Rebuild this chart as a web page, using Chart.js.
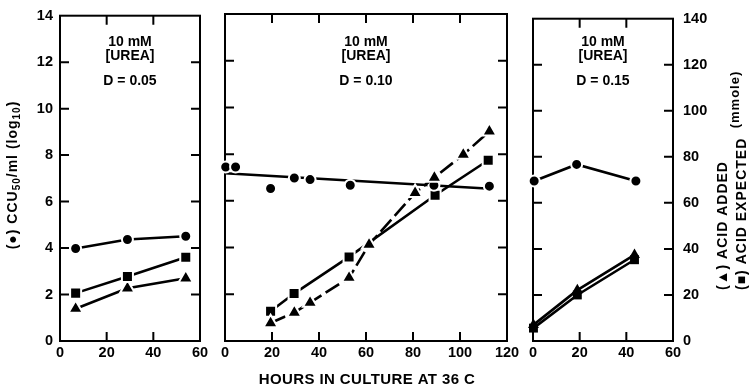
<!DOCTYPE html>
<html><head><meta charset="utf-8">
<script src="https://cdn.jsdelivr.net/npm/chart.js@4.4.1/dist/chart.umd.min.js"></script>
<style>
html,body{margin:0;padding:0;background:#fff;}
#wrap{position:relative;width:749px;height:387px;overflow:hidden;background:#fff;}
canvas{position:absolute;left:0;top:0;}
</style></head><body>
<div id="wrap">
<canvas id="c1" width="749" height="387"></canvas>
<canvas id="c2" width="749" height="387"></canvas>
<canvas id="c3" width="749" height="387"></canvas>
</div>
<script>
// ---------- data ----------
const yTicksLeft = [0, 2, 4, 6, 8, 10, 12, 14];           // log10 CCU50/ml
const yTicksRight = [0, 20, 40, 60, 80, 100, 120, 140];   // mmole
const xTicksShort = [0, 20, 40, 60];
const xTicksLong = [0, 20, 40, 60, 80, 100, 120];

const panelLabels1 = ['10 mM', '[UREA]', 'D = 0.05'];
const panelLabels2 = ['10 mM', '[UREA]', 'D = 0.10'];
const panelLabels3 = ['10 mM', '[UREA]', 'D = 0.15'];

// Panel 1 (D = 0.05)
const p1Hours = [6.7, 28.9, 53.9];
const p1Virus = [3.98, 4.37, 4.51];
const p1AcidAdded = [13.9, 22.7, 27.0];
const p1AcidExpected = [20.6, 27.8, 36.0];

// Panel 2 (D = 0.10)
const p2VirusHours = [0.3, 4.5, 19.4, 29.5, 36.2, 53.3, 88.9, 112.5];
const p2Virus = [7.45, 7.45, 6.53, 6.98, 6.91, 6.67, 6.67, 6.63];
const p2FitHours = [0, 113];
const p2Fit = [7.18, 6.52];
const p2AddedHours = [19.4, 29.5, 36.2, 52.8, 61.3, 80.9, 89.1, 101.4, 112.5];
const p2AcidAdded = [7.7, 12.2, 16.4, 27.1, 41.3, 63.4, 70.0, 79.8, 89.8];
const p2ExpectedHours = [19.4, 29.4, 52.8, 89.4, 112.0];
const p2AcidExpected = [12.7, 20.3, 36.0, 62.4, 77.4];

// Panel 3 (D = 0.15)
const p3VirusHours = [0.5, 18.7, 44.1];
const p3Virus = [6.95, 7.67, 6.95];
const p3AcidHours = [0.2, 19.0, 43.5];
const p3AcidAdded = [7.0, 22.1, 37.4];
const p3AcidExpected = [5.6, 20.0, 35.3];

// ---------- rendering ----------
const FONT = "'Liberation Sans', Arial, Helvetica, sans-serif";
Chart.defaults.font.family = FONT;
Chart.defaults.font.weight = 'bold';
Chart.defaults.color = '#000';

function pts(xs, ys) { return xs.map((x, i) => ({ x: x, y: ys[i] })); }

function series(xs, ys, style, axis, extra) {
  const sizes = { circle: 5.5, rect: 7.8, triangle: 8.3 };
  return Object.assign({
    data: pts(xs, ys), yAxisID: axis, showLine: true,
    borderColor: '#000', borderWidth: 2.6, backgroundColor: '#000',
    pointStyle: style, pointRadius: sizes[style], pointHoverRadius: sizes[style],
    pointBackgroundColor: '#000', pointBorderColor: '#fff', pointBorderWidth: 2,
    clip: false
  }, extra || {});
}

function framePlugin(xTicks, yTicks) {
  return {
    id: 'frame',
    beforeDatasetsDraw(chart) {
      const { ctx, chartArea: a, scales } = chart;
      ctx.save();
      ctx.strokeStyle = '#000'; ctx.lineWidth = 2;
      ctx.strokeRect(a.left, a.top, a.right - a.left, a.bottom - a.top);
      const L = 9;
      ctx.beginPath();
      yTicks.slice(1, -1).forEach(v => {
        const y = scales.y.getPixelForValue(v);
        ctx.moveTo(a.left, y); ctx.lineTo(a.left + L, y);
        ctx.moveTo(a.right, y); ctx.lineTo(a.right - L, y);
      });
      xTicks.slice(1, -1).forEach(v => {
        const x = scales.x.getPixelForValue(v);
        ctx.moveTo(x, a.top); ctx.lineTo(x, a.top + L);
        ctx.moveTo(x, a.bottom); ctx.lineTo(x, a.bottom - L);
      });
      ctx.stroke();
      ctx.restore();
    }
  };
}

function textPlugin(lines, extra) {
  return {
    id: 'ptext',
    afterDraw(chart) {
      const { ctx, chartArea: a } = chart;
      const cx = (a.left + a.right) / 2;
      const ys = [42, 56.5, 81];
      ctx.save();
      ctx.fillStyle = '#000';
      ctx.font = 'bold 14px ' + FONT;
      ctx.textAlign = 'center'; ctx.textBaseline = 'middle';
      lines.forEach((t, i) => ctx.fillText(t, cx, ys[i]));
      ctx.restore();
      if (extra) extra(ctx, chart);
    }
  };
}

function drawRotated(ctx, segs, cx, cy, align) {
  ctx.save();
  ctx.translate(cx, cy);
  ctx.rotate(-Math.PI / 2);
  ctx.letterSpacing = '1px';
  let total = 0;
  segs.forEach(s => { ctx.font = 'bold ' + s.size + 'px ' + FONT; s.w = ctx.measureText(s.t).width; total += s.w; });
  let u = align === 'center' ? -total / 2 : 0;
  ctx.textBaseline = 'middle'; ctx.textAlign = 'left'; ctx.fillStyle = '#000';
  segs.forEach(s => { ctx.font = 'bold ' + s.size + 'px ' + FONT; ctx.fillText(s.t, u, s.dy || 0); u += s.w; });
  ctx.restore();
}

function makePanel(id, cfg) {
  const tickFont = { size: 14.5, weight: 'bold', family: FONT };
  return new Chart(document.getElementById(id), {
    type: 'scatter',
    data: { datasets: cfg.datasets },
    options: {
      responsive: false, animation: false, devicePixelRatio: 1,
      layout: { padding: cfg.padding },
      plugins: { legend: { display: false }, tooltip: { enabled: false } },
      scales: {
        x: {
          type: 'linear', min: 0, max: cfg.xMax,
          ticks: { stepSize: 20, padding: 3, font: tickFont, maxRotation: 0, autoSkip: false, color: '#000' },
          grid: { display: false, drawTicks: false }, border: { display: false },
          afterFit(s) { s.height = 20; }
        },
        y: {
          type: 'linear', position: 'left', min: 0, max: 14, display: cfg.showLeft,
          ticks: { stepSize: 2, padding: 7, font: tickFont, color: '#000' },
          grid: { display: false, drawTicks: false }, border: { display: false },
          afterFit(s) { s.width = cfg.showLeft ? 60 : 0; }
        },
        y2: {
          type: 'linear', position: 'right', min: 0, max: 140, display: cfg.showRight,
          ticks: { stepSize: 20, padding: 10, font: tickFont, color: '#000' },
          grid: { display: false, drawTicks: false }, border: { display: false },
          afterFit(s) { s.width = cfg.showRight ? 76 : 0; }
        }
      }
    },
    plugins: [framePlugin(cfg.xTicks, yTicksLeft), textPlugin(cfg.labels, cfg.extra)]
  });
}

// Panel 1
makePanel('c1', {
  padding: { left: 0, top: 14, right: 549, bottom: 26 },
  xMax: 60, xTicks: xTicksShort, showLeft: true, showRight: false, labels: panelLabels1,
  datasets: [
    series(p1Hours, p1Virus, 'circle', 'y', { order: 1 }),
    series(p1Hours, p1AcidExpected, 'rect', 'y2', { order: 2 }),
    series(p1Hours, p1AcidAdded, 'triangle', 'y2', { order: 3 })
  ],
  extra(ctx) {
    drawRotated(ctx, [
      { t: '(\u25CF) CCU', size: 14 },
      { t: '50', size: 10, dy: 4 },
      { t: '/ml (log', size: 14 },
      { t: '10', size: 10, dy: 4 },
      { t: ')', size: 14 }
    ], 13, 175, 'center');
  }
});

// Panel 2
makePanel('c2', {
  padding: { left: 225, top: 14, right: 242, bottom: 26 },
  xMax: 120, xTicks: xTicksLong, showLeft: false, showRight: false, labels: panelLabels2,
  datasets: [
    series(p2VirusHours, p2Virus, 'circle', 'y', { showLine: false, order: 2 }),
    series(p2FitHours, p2Fit, 'circle', 'y', { pointRadius: 0, pointHoverRadius: 0, pointBorderWidth: 0, order: 5 }),
    series(p2AddedHours, p2AcidAdded, 'triangle', 'y2', { borderDash: [16, 5], order: 1 }),
    series(p2ExpectedHours, p2AcidExpected, 'rect', 'y2', { order: 3 })
  ],
  extra(ctx) {
    ctx.save();
    ctx.fillStyle = '#000';
    ctx.font = 'bold 15px ' + FONT;
    ctx.letterSpacing = '0.4px';
    ctx.textAlign = 'center'; ctx.textBaseline = 'middle';
    ctx.fillText('HOURS IN CULTURE AT 36 C', 367, 380);
    ctx.restore();
  }
});

// Panel 3
makePanel('c3', {
  padding: { left: 533, top: 14, right: 0, bottom: 26 },
  xMax: 60, xTicks: xTicksShort, showLeft: false, showRight: true, labels: panelLabels3,
  datasets: [
    series(p3VirusHours, p3Virus, 'circle', 'y', { order: 1 }),
    series(p3AcidHours, p3AcidAdded, 'triangle', 'y2', { pointRadius: 6.3, pointBorderWidth: 0, order: 2 }),
    series(p3AcidHours, p3AcidExpected, 'rect', 'y2', { pointRadius: 6.3, pointBorderWidth: 0, order: 3 })
  ],
  extra(ctx) {
    drawRotated(ctx, [{ t: '(mmole)', size: 13 }], 735, 99.5, 'center');
    drawRotated(ctx, [{ t: '(\u25B2) ACID ADDED', size: 14 }], 723, 290, 'left');
    drawRotated(ctx, [{ t: '(\u25A0) ACID EXPECTED', size: 14 }], 742, 290, 'left');
  }
});
</script>
</body></html>
